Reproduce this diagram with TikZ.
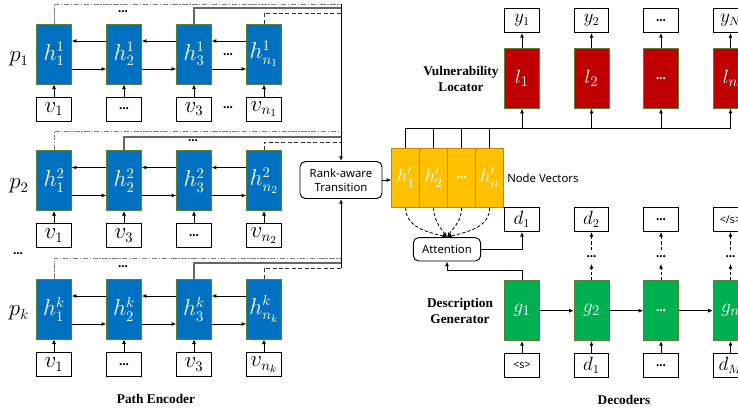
\documentclass[tikz,border=0pt]{standalone}
\usepackage{fontspec}
\setmainfont{Liberation Serif}
\newfontfamily\sfn{Noto Sans}
\usetikzlibrary{arrows.meta,calc}
\definecolor{cblue}{HTML}{0070C0}
\definecolor{cred}{HTML}{C00000}
\definecolor{cgreen}{HTML}{00B050}
\definecolor{cyel}{HTML}{FFC000}
\definecolor{cyelb}{HTML}{C08A00}
\definecolor{cbord}{HTML}{5B7F3A}
\begin{document}
\begin{tikzpicture}[x=0.75pt,y=-0.75pt,
  arr/.style={-{Latex[length=3.5pt,width=3pt]}, line width=0.7pt},
  dsharr/.style={arr, dash pattern=on 2.5pt off 1.5pt},
  cell/.style={draw=cbord, line width=0.5pt, minimum width=26pt, minimum height=45pt, inner sep=0pt, text=white, font=\fontsize{16}{16}\selectfont},
  hb/.style={cell, fill=cblue},
  lb/.style={cell, fill=cred, font=\fontsize{15}{15}\selectfont},
  gb/.style={cell, fill=cgreen, font=\fontsize{15}{15}\selectfont},
  yb/.style={draw=cyelb, line width=0.5pt, fill=cyel, minimum width=21pt, minimum height=44.25pt, inner sep=0pt, text=white, font=\fontsize{14}{14}\selectfont},
  vb/.style={draw, line width=0.7pt, fill=white, minimum width=26pt, minimum height=18pt, inner sep=0pt, font=\fontsize{16}{16}\selectfont},
  ob/.style={draw, line width=0.7pt, fill=white, minimum width=26pt, minimum height=18pt, inner sep=0pt, font=\fontsize{13.5}{13.5}\selectfont},
  rb/.style={draw, line width=0.7pt, rounded corners=4pt, align=center, inner sep=0pt, font=\sfn\fontsize{8.5}{10.5}\selectfont},
  lab/.style={font=\bfseries\fontsize{10}{12}\selectfont, align=center},
  ddot/.style={gray, line width=0.7pt, dash pattern=on 4pt off 1.2pt on 1pt off 1.2pt},
  sgray/.style={black!60, line width=0.9pt},
  dsh/.style={black!80, line width=0.6pt, dash pattern=on 3pt off 1.8pt},
  dots/.style={inner sep=0pt, font=\bfseries\fontsize{10}{10}\selectfont},
  el/.style={font=\bfseries\fontsize{10}{10}\selectfont}
]
\useasboundingbox (0,0) rectangle (738,414);

% ---------------- Path encoder ----------------
% row 1
\node[hb] (h11) at (54,54) {$h_1^1$};
\node[hb] (h12) at (124,54) {$h_2^1$};
\node[hb] (h13) at (194,54) {$h_3^1$};
\node[hb] (h14) at (264,54) {$h_{n_1}^1$};
\node[vb] (v11) at (54,109) {$v_1$};
\node[vb, el] (v12) at (124,109) {...};
\node[vb] (v13) at (194,109) {$v_3$};
\node[vb] (v14) at (264,109) {$v_{n_1}$};
% row 2
\node[hb] (h21) at (54,180.5) {$h_1^2$};
\node[hb] (h22) at (124,180.5) {$h_2^2$};
\node[hb] (h23) at (194,180.5) {$h_3^2$};
\node[hb] (h24) at (264,180.5) {$h_{n_2}^2$};
\node[vb] (v21) at (54,235.5) {$v_1$};
\node[vb] (v22) at (124,235.5) {$v_3$};
\node[vb, el] (v23) at (194,235.5) {...};
\node[vb] (v24) at (264,235.5) {$v_{n_2}$};
% row 3
\node[hb] (h31) at (54,309) {$h_1^k$};
\node[hb] (h32) at (124,309) {$h_2^k$};
\node[hb] (h33) at (194,309) {$h_3^k$};
\node[hb] (h34) at (264,309) {$h_{n_k}^k$};
\node[vb] (v31) at (54,364.5) {$v_1$};
\node[vb, el] (v32) at (124,364.5) {...};
\node[vb] (v33) at (194,364.5) {$v_3$};
\node[vb] (v34) at (264,364.5) {$v_{n_k}$};

\foreach \r in {1,2,3}{
  \foreach \a/\b in {1/2,2/3,3/4}{
    \draw[arr] ($(h\r\b.west)+(0,-13)$) -- ($(h\r\a.east)+(0,-13)$);
    \draw[arr] ($(h\r\a.east)+(0,15)$) -- ($(h\r\b.west)+(0,15)$);
  }
  \foreach \c in {1,2,3,4}{
    \draw[arr] (v\r\c.north) -- (h\r\c.south);
  }
}

% labels
\node[font=\fontsize{16}{16}\selectfont] (p1) at (19,59) {$p_1$};
\node[font=\fontsize{16}{16}\selectfont] (p2) at (19,186) {$p_2$};
\node[font=\fontsize{16}{16}\selectfont] (pk) at (19,313) {$p_k$};
\node[dots] (ldots) at (18,254) {...};
\node[dots] (r1dots) at (123,12) {...};
\node[dots] (r2dots) at (193,141) {...};
\node[dots] (r3dots) at (123,267) {...};
\node[dots] (r1hd) at (228,55) {...};
\node[dots] (r1vd) at (228,108) {...};
\node[lab] (pe) at (156,399) {Path Encoder};

% rank-aware transition
\node[rb, minimum width=61.5pt, minimum height=27.75pt] (rank) at (341,180) {Rank-aware\\Transition};

% bus lines
\coordinate (a1) at (341,4);
\coordinate (b1) at (341,8);
\coordinate (c1) at (341,13);
\coordinate (a2) at (341,131);
\coordinate (b2) at (341,137);
\coordinate (c2) at (341,142);
\coordinate (a3) at (341,258);
\coordinate (b3) at (341,263);
\coordinate (c3) at (341,268);
\draw[ddot] (h11.north) |- (a1);
\draw[sgray] (h13.north) |- (b1);
\draw[dsh] (h14.north) |- (c1);
\draw[ddot] (h21.north) |- (a2);
\draw[sgray] (h22.north) |- (b2);
\draw[dsh] (h24.north) |- (c2);
\draw[ddot] (h31.north) |- (a3);
\draw[sgray] (h33.north) |- (b3);
\draw[dsh] (h34.north) |- (c3);
\draw[arr] (a1) -- (rank.north);
\draw[arr] (c3) -- (rank.south);

% ---------------- Node vectors ----------------
\node[yb] (n1) at (405.7,177.7) {$h'_1$};
\node[yb] (n2) at (433.7,177.7) {$h'_2$};
\node[yb, el] (n3) at (461.7,177.7) {...};
\node[yb] (n4) at (489.6,177.7) {$h'_n$};
\node[anchor=west, inner sep=0pt, font=\sfn\fontsize{8.5}{10}\selectfont] (nv) at (507,178) {Node Vectors};
\draw[arr] (rank.east) -- (rank.east -| n1.west);

% ---------------- Vulnerability locator ----------------
\node[lb] (l1) at (522,78.3) {$l_1$};
\node[lb] (l2) at (591.5,78.3) {$l_2$};
\node[lb, el] (l3) at (661,78.3) {...};
\node[lb] (l4) at (730.5,78.3) {$l_n$};
\node[ob] (y1) at (522,20.5) {$y_1$};
\node[ob] (y2) at (591.5,20.5) {$y_2$};
\node[ob, el] (y3) at (661,20.5) {...};
\node[ob] (y4) at (730.5,20.5) {$y_N$};
\coordinate (busL) at (405.7,128);
\coordinate (busR) at (730.5,128);
\draw[line width=0.7pt] (busL) -- (busR);
\foreach \n in {1,2,3,4}{
  \draw[line width=0.7pt] (n\n.north) -- (n\n.north |- busL);
  \draw[arr] (l\n.south |- busL) -- (l\n.south);
  \draw[arr] (l\n.north) -- (y\n.south);
}
\node[lab] (vl) at (461,79) {Vulnerability\\Locator};

% ---------------- Description generator ----------------
\node[gb] (g1) at (522,310.7) {$g_1$};
\node[gb] (g2) at (591.5,310.7) {$g_2$};
\node[gb, el] (g3) at (661,310.7) {...};
\node[gb] (g4) at (730.5,310.7) {$g_n$};
\node[ob, font=\sfn\bfseries\fontsize{8}{8}\selectfont] (i1) at (522,365.5) {<s>};
\node[ob] (i2) at (591.5,365.5) {$d_1$};
\node[ob, el] (i3) at (661,365.5) {...};
\node[ob] (i4) at (730.5,365.5) {$d_M$};
\node[ob] (d1) at (522,219.5) {$d_1$};
\node[ob] (d2) at (591.5,219.5) {$d_2$};
\node[ob, el] (d3) at (661,219.5) {...};
\node[ob, font=\sfn\bfseries\fontsize{8}{8}\selectfont] (d4) at (730.5,219.5) {</s>};
\foreach \n in {2,3,4}{
  \node[dots, minimum height=10pt] (m\n) at ($(g\n.north |- d1.south)+(0,25)$) {...};
  \draw[dsharr] (g\n.north) -- (m\n.south);
  \draw[dsharr] (m\n.north) -- (d\n.south);
}
\foreach \n in {1,2,3,4}{
  \draw[arr] (i\n.north) -- (g\n.south);
}
\foreach \a/\b in {1/2,2/3,3/4}{
  \draw[arr] (g\a.east) -- (g\b.west);
}
\node[rb, minimum width=50.5pt, minimum height=17.5pt] (att) at (447,249.3) {Attention};
\draw[arr] (g1.north) |- ($(att.south)+(0,9)$) -- (att.south);
\draw[arr] (att.east) -| (d1.south);
\draw[dsharr, line width=0.6pt] (n1.south) to[out=-90, in=165] (att.north);
\draw[dsharr, line width=0.6pt] (n2.south) to[out=-90, in=125] (att.north);
\draw[dsharr, line width=0.6pt] (n3.south) to[out=-90, in=55] (att.north);
\draw[dsharr, line width=0.6pt] (n4.south) to[out=-90, in=15] (att.north);
\node[lab] (dg) at (460,310.5) {Description\\Generator};
\node[lab] (dec) at (624,400) {Decoders};
\end{tikzpicture}
\end{document}
